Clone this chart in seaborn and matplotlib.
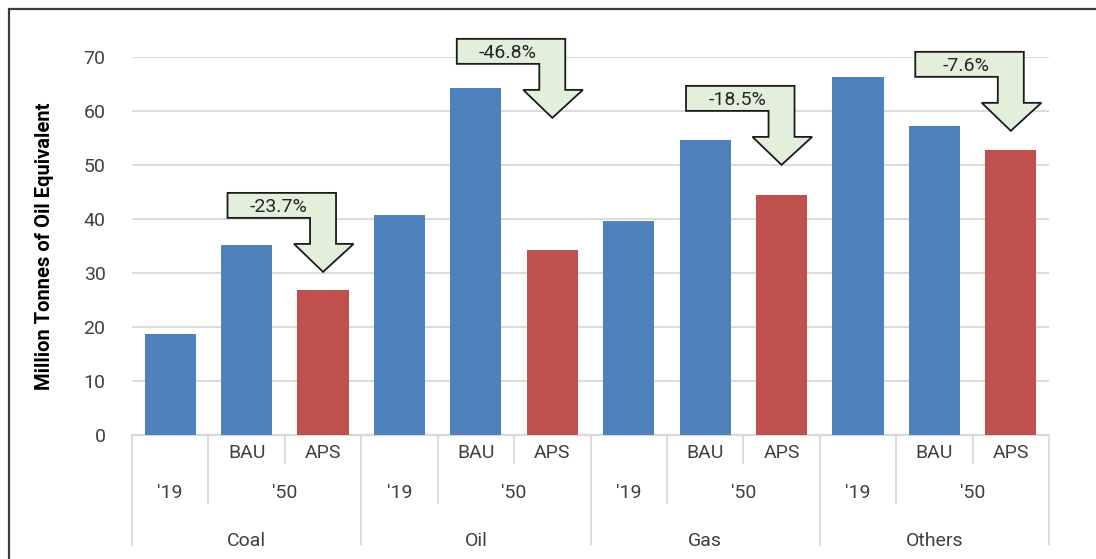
import matplotlib
matplotlib.use("Agg")
import matplotlib.pyplot as plt
import matplotlib.transforms as mtransforms
from matplotlib.patches import Polygon
from matplotlib.lines import Line2D
import pandas as pd
import seaborn as sns

# ---- data -------------------------------------------------------------
fuels = ["Coal", "Oil", "Gas", "Others"]
base_2019 = [18.6, 40.7, 39.6, 66.2]
bau_2050 = [35.2, 64.2, 54.5, 57.15]
aps_2050 = [26.86, 34.16, 44.42, 52.81]
kinds = ["'19", "BAU", "APS"]
year_labels = ["'19", "'50"]

# ---- style ------------------------------------------------------------
BLUE = "#4F81BD"
RED = "#C0504D"
GRID = "#d9d9d9"
TXT = "#404040"
palette = {"'19": BLUE, "BAU": BLUE, "APS": RED}

# top edge of each reduction callout (y units)
callout_top = [44.8, 73.3, 64.6, 70.9]

sns.set_theme(style="white")
plt.rcParams["font.family"] = ["Roboto", "DejaVu Sans"]

rows = []
for f, a, b, c in zip(fuels, base_2019, bau_2050, aps_2050):
    for k, v in zip(kinds, (a, b, c)):
        rows.append({"slot": f"{f} {k}", "kind": k, "value": v})
df = pd.DataFrame(rows)

W, H = 1096, 559
fig = plt.figure(figsize=(W / 100, H / 100), dpi=100)
ax_l, ax_r, ax_b, ax_t = 132, 1049, 435, 56.7
ax = fig.add_axes([ax_l / W, (H - ax_b) / H, (ax_r - ax_l) / W, (ax_b - ax_t) / H])
ax_h = ax_b - ax_t
py_per_unit = ax_h / 70.0

sns.barplot(data=df, x="slot", y="value", hue="kind", palette=palette,
            dodge=False, width=0.67, saturation=1, legend=False,
            linewidth=0, ax=ax, zorder=3)

ax.set_xlim(-0.5, 11.5)
ax.set_ylim(0, 70)
ax.set_yticks(range(0, 71, 10))
ax.yaxis.grid(True, color=GRID, lw=1.3)
ax.xaxis.grid(False)
ax.set_axisbelow(True)
for s in ax.spines.values():
    s.set_visible(False)
ax.set_xticks([])
ax.set_xlabel("")
ax.set_ylabel("")
ax.tick_params(axis="y", length=0, pad=19, labelsize=14, labelcolor=TXT)

fig.text(45 / W, (H - (ax_b + ax_t) / 2) / H, "Million Tonnes of Oil Equivalent",
         rotation=90, ha="center", va="center", fontsize=14.5,
         fontweight="bold", color="black")

# ---- multi-level category axis ---------------------------------------
trans = mtransforms.blended_transform_factory(ax.transData, ax.transAxes)


def depth(px):
    return -px / ax_h


ax.plot([-0.5, 11.5], [0, 0], transform=trans, color=GRID, lw=1.6,
        clip_on=False, zorder=2)

for i, f in enumerate(fuels):
    base = 3 * i
    ax.plot([base - 0.5] * 2, [0, depth(110)], transform=trans, color=GRID,
            lw=1.3, clip_on=False)
    ax.plot([base + 0.5] * 2, [0, depth(68)], transform=trans, color=GRID,
            lw=1.3, clip_on=False)
    ax.plot([base + 1.5] * 2, [0, depth(28)], transform=trans, color=GRID,
            lw=1.3, clip_on=False)
    ax.text(base + 1, depth(18), kinds[1], transform=trans, ha="center",
            va="center", fontsize=14, color=TXT)
    ax.text(base + 2, depth(18), kinds[2], transform=trans, ha="center",
            va="center", fontsize=14, color=TXT)
    ax.text(base, depth(58), year_labels[0], transform=trans, ha="center",
            va="center", fontsize=14, color=TXT)
    ax.text(base + 1.5, depth(58), year_labels[1], transform=trans,
            ha="center", va="center", fontsize=14, color=TXT)
    ax.text(base + 1, depth(106), f, transform=trans, ha="center",
            va="center", fontsize=14, color=TXT)
ax.plot([11.5] * 2, [0, depth(110)], transform=trans, color=GRID, lw=1.3,
        clip_on=False)

# ---- bent-arrow callouts with the BAU -> APS change -------------------
h1 = 25 / py_per_unit
h2 = 51 / py_per_unit
h3 = 79 / py_per_unit
for i, (b, a) in enumerate(zip(bau_2050, aps_2050)):
    c = 3 * i + 2
    top = callout_top[i]
    pts = [(c - 1.25, top), (c + 0.17, top), (c + 0.17, top - h2),
           (c + 0.40, top - h2), (c, top - h3), (c - 0.38, top - h2),
           (c - 0.17, top - h2), (c - 0.17, top - h1), (c - 1.25, top - h1)]
    ax.add_patch(Polygon(pts, closed=True, facecolor="#E2EFDA",
                         edgecolor="#1a1a1a", lw=1.3, clip_on=False,
                         zorder=6))
    pct = (a / b - 1) * 100
    ax.text(c - 0.58, top - 14 / py_per_unit, f"{pct:.1f}%", ha="center",
            va="center", fontsize=14, color="#262626", zorder=7,
            clip_on=False)

# ---- outer frame -----------------------------------------------------
fig.add_artist(Line2D([9 / W, 1.01], [1 - 9 / H] * 2, transform=fig.transFigure,
                      color="#3a3a3a", lw=1.6))
fig.add_artist(Line2D([9 / W] * 2, [-0.01, 1 - 9 / H], transform=fig.transFigure,
                      color="#3a3a3a", lw=1.6))

fig.savefig("out.png", dpi=100, facecolor="white")
